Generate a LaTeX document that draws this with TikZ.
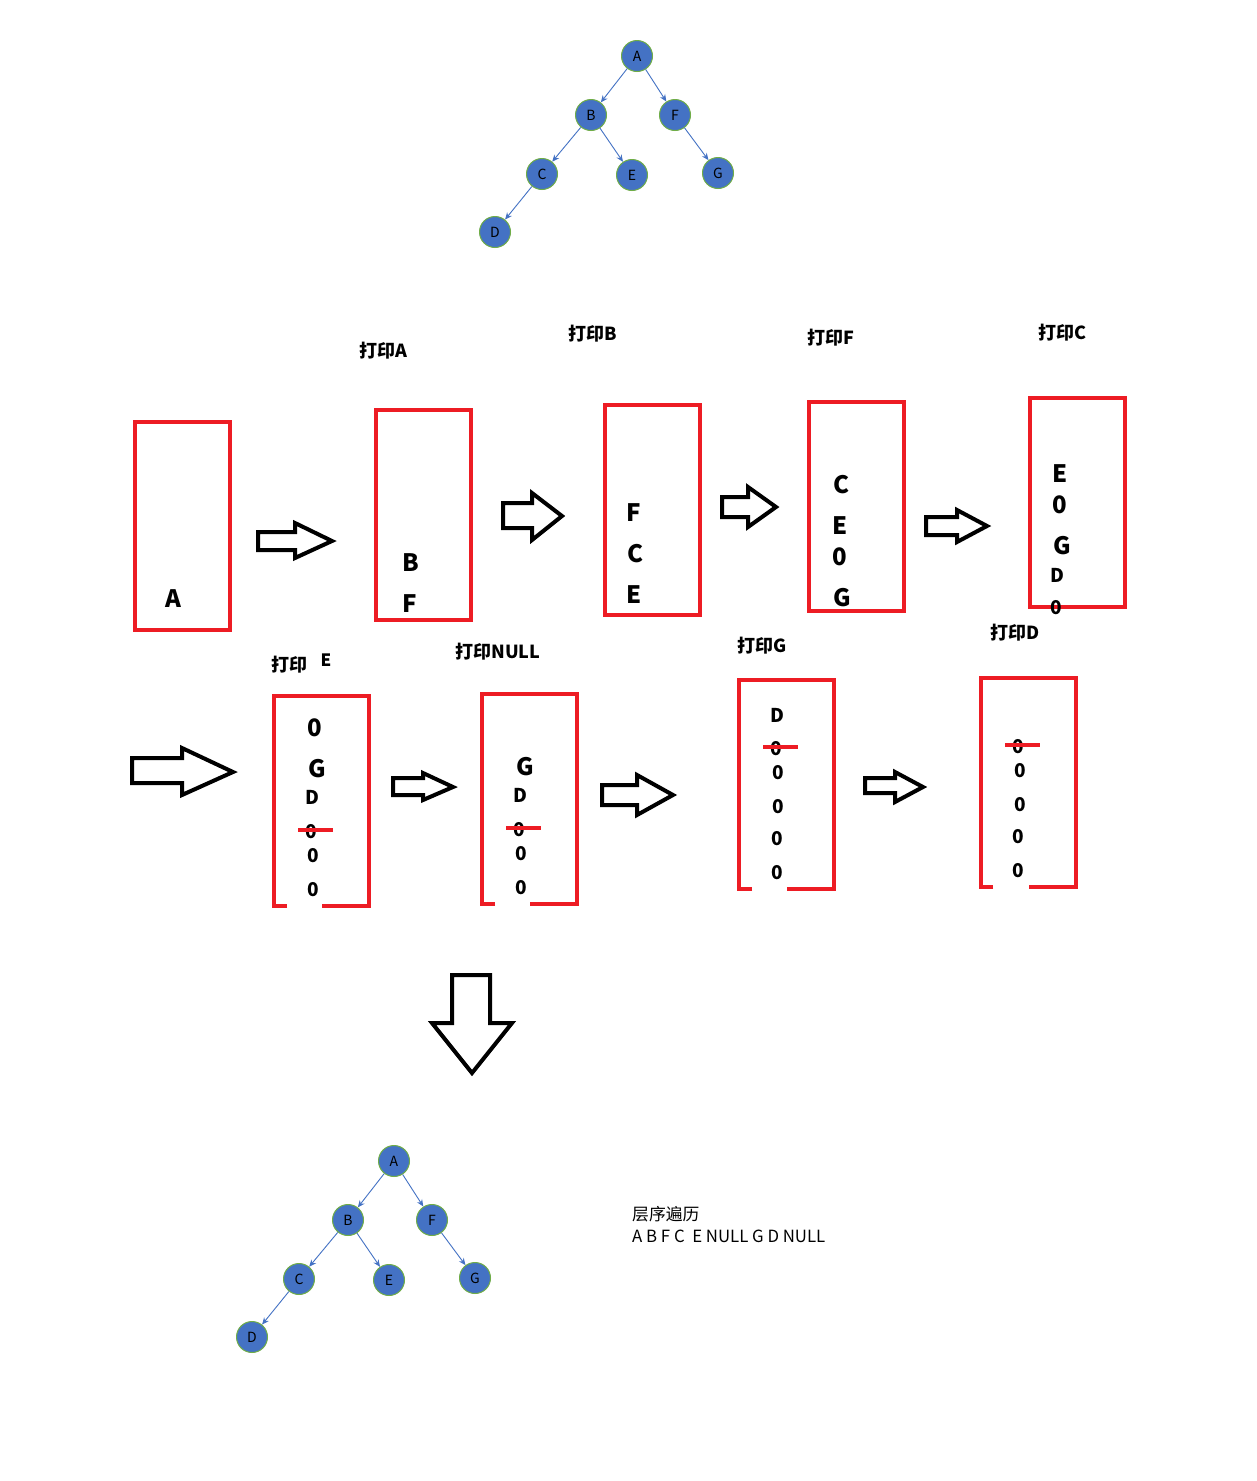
\documentclass[tikz,border=0pt]{standalone}
\usepackage{fontspec}
\setmainfont{Noto Sans CJK SC}
\newfontfamily\cjk{Noto Sans CJK SC}
\usetikzlibrary{arrows.meta}
\definecolor{nodeblue}{HTML}{4472C4}
\definecolor{nodegreen}{HTML}{70AD47}
\definecolor{boxred}{HTML}{ED1C24}
\tikzset{
  tnode/.style={circle,fill=nodeblue,draw=nodegreen,line width=1pt,minimum size=31pt,inner sep=0pt,font=\cjk\fontsize{14}{14}\selectfont,text=black},
  tedge/.style={draw=nodeblue,line width=0.9pt,-{Stealth[length=7pt,width=6pt]}},
  redbox/.style={draw=boxred,line width=4pt},
  strike/.style={draw=boxred,line width=4pt},
  big/.style={font=\cjk\bfseries\fontsize{24}{24}\selectfont,inner sep=0pt},
  small/.style={font=\cjk\bfseries\fontsize{19}{19}\selectfont,inner sep=0pt},
  lbl/.style={font=\cjk\bfseries\fontsize{18}{18}\selectfont,inner sep=0pt},
  blockarrow/.style={draw=black,fill=white,line width=4pt,line join=miter},
  plain/.style={font=\cjk\fontsize{16.8}{16.8}\selectfont,inner sep=0pt,anchor=west}
}
\begin{document}
\begin{tikzpicture}[x=1pt,y=-1pt]
\useasboundingbox (0,0) rectangle (1257,1481);
\fill[white] (0,0) rectangle (1257,1481);

% ---------- top tree ----------
\node[tnode] (tA) at (637,56) {A};
\node[tnode] (tB) at (591,115) {B};
\node[tnode] (tF) at (675,115) {F};
\node[tnode] (tC) at (542,174) {C};
\node[tnode] (tE) at (632,175) {E};
\node[tnode] (tG) at (718,173) {G};
\node[tnode] (tD) at (495,232) {D};
\draw[tedge] (tA) -- (tB);
\draw[tedge] (tA) -- (tF);
\draw[tedge] (tB) -- (tC);
\draw[tedge] (tB) -- (tE);
\draw[tedge] (tF) -- (tG);
\draw[tedge] (tC) -- (tD);

% ---------- row 1 boxes ----------
\draw[redbox] (135,422) rectangle (230,630);
\draw[redbox] (376,410) rectangle (471,620);
\draw[redbox] (605,405) rectangle (700,615);
\draw[redbox] (809,402) rectangle (904,611);
\draw[redbox] (1030,398) rectangle (1125,607);

\node[lbl] (l1) at (383,351) {打印A};
\node[lbl] (l2) at (593,334) {打印B};
\node[lbl] (l3) at (831,338) {打印F};
\node[lbl] (l4) at (1062,333) {打印C};

\node[big] (b1a) at (173,599) {A};
\node[big] (b2a) at (411,563) {B};
\node[big] (b2b) at (410,604) {F};
\node[big] (b3a) at (634,513) {F};
\node[big] (b3b) at (635,554) {C};
\node[big] (b3c) at (634,595) {E};
\node[big] (b4a) at (841,485) {C};
\node[big] (b4b) at (840,526) {E};
\node[big] (b4c) at (840,557) {0};
\node[big] (b4d) at (842,598) {G};
\node[big] (b5a) at (1060,474) {E};
\node[big] (b5b) at (1060,505) {0};
\node[big] (b5c) at (1062,546) {G};
\node[small] (b5d) at (1057,575) {D};
\node[small] (b5e) at (1056,608) {0};

% row 1 arrows
\draw[blockarrow] (258,532) -- (295,532) -- (295,523) -- (332,541) -- (295,558) -- (295,550) -- (258,550) -- cycle;
\draw[blockarrow] (503,503) -- (532,503) -- (532,493) -- (562,516) -- (532,540) -- (532,528) -- (503,528) -- cycle;
\draw[blockarrow] (722,497) -- (748,497) -- (748,487) -- (776,507) -- (748,527) -- (748,517) -- (722,517) -- cycle;
\draw[blockarrow] (926,517) -- (957,517) -- (957,510) -- (987,526) -- (957,542) -- (957,535) -- (926,535) -- cycle;

% ---------- row 2 ----------
\draw[blockarrow] (132,758) -- (182,758) -- (182,748) -- (233,772) -- (182,795) -- (182,783) -- (132,783) -- cycle;
\draw[blockarrow] (393,778) -- (423,778) -- (423,773) -- (453,787) -- (423,800) -- (423,795) -- (393,795) -- cycle;
\draw[blockarrow] (602,785) -- (637,785) -- (637,775) -- (673,795) -- (637,815) -- (637,805) -- (602,805) -- cycle;
\draw[blockarrow] (865,778) -- (895,778) -- (895,772) -- (923,787) -- (895,802) -- (895,793) -- (865,793) -- cycle;

\node[lbl] (l5a) at (289,665) {打印};
\node[small,font=\cjk\bfseries\fontsize{17}{17}\selectfont] (l5b) at (326,660) {E};
\node[lbl] (l6) at (498,652) {打印NULL};
\node[lbl] (l7) at (762,646) {打印G};
\node[lbl] (l8) at (1015,633) {打印D};

% open-bottom boxes
\draw[redbox,line join=miter] (287,906) -- (274,906) -- (274,696) -- (369,696) -- (369,906) -- (322,906);
\draw[redbox,line join=miter] (495,904) -- (482,904) -- (482,694) -- (577,694) -- (577,904) -- (530,904);
\draw[redbox,line join=miter] (752,889) -- (739,889) -- (739,680) -- (834,680) -- (834,889) -- (787,889);
\draw[redbox,line join=miter] (993,887) -- (981,887) -- (981,678) -- (1076,678) -- (1076,887) -- (1029,887);

% box 6 contents
\node[big] (c6a) at (315,728) {0};
\node[big] (c6b) at (317,769) {G};
\node[small] (c6c) at (312,797) {D};
\node[small] (c6d) at (311,832) {0};
\node[small] (c6e) at (313,856) {0};
\node[small] (c6f) at (313,890) {0};
\draw[strike] (298,830) -- (333,830);
% box 7
\node[big] (c7a) at (525,767) {G};
\node[small] (c7b) at (520,795) {D};
\node[small] (c7c) at (519,830) {0};
\node[small] (c7d) at (521,854) {0};
\node[small] (c7e) at (521,888) {0};
\draw[strike] (506,828) -- (541,828);
% box 8
\node[small] (c8a) at (777,715) {D};
\node[small] (c8b) at (776,749) {0};
\node[small] (c8c) at (778,773) {0};
\node[small] (c8d) at (778,807) {0};
\node[small] (c8e) at (777,839) {0};
\node[small] (c8f) at (777,873) {0};
\draw[strike] (763,747) -- (798,747);
% box 9
\node[small] (c9a) at (1018,747) {0};
\node[small] (c9b) at (1020,771) {0};
\node[small] (c9c) at (1020,805) {0};
\node[small] (c9d) at (1018,837) {0};
\node[small] (c9e) at (1018,871) {0};
\draw[strike] (1005,745) -- (1040,745);

% down arrow
\draw[blockarrow] (452,975) -- (490,975) -- (490,1023) -- (512,1023) -- (472,1073) -- (432,1023) -- (452,1023) -- cycle;

% ---------- bottom tree ----------
\node[tnode] (uA) at (394,1161) {A};
\node[tnode] (uB) at (348,1220) {B};
\node[tnode] (uF) at (432,1220) {F};
\node[tnode] (uC) at (299,1279) {C};
\node[tnode] (uE) at (389,1280) {E};
\node[tnode] (uG) at (475,1278) {G};
\node[tnode] (uD) at (252,1337) {D};
\draw[tedge] (uA) -- (uB);
\draw[tedge] (uA) -- (uF);
\draw[tedge] (uB) -- (uC);
\draw[tedge] (uB) -- (uE);
\draw[tedge] (uF) -- (uG);
\draw[tedge] (uC) -- (uD);

\node[plain] (t1) at (632,1214) {层序遍历};
\node[plain] (t2) at (632,1236) {A B F C\ \ E NULL G D NULL};
\end{tikzpicture}
\end{document}
